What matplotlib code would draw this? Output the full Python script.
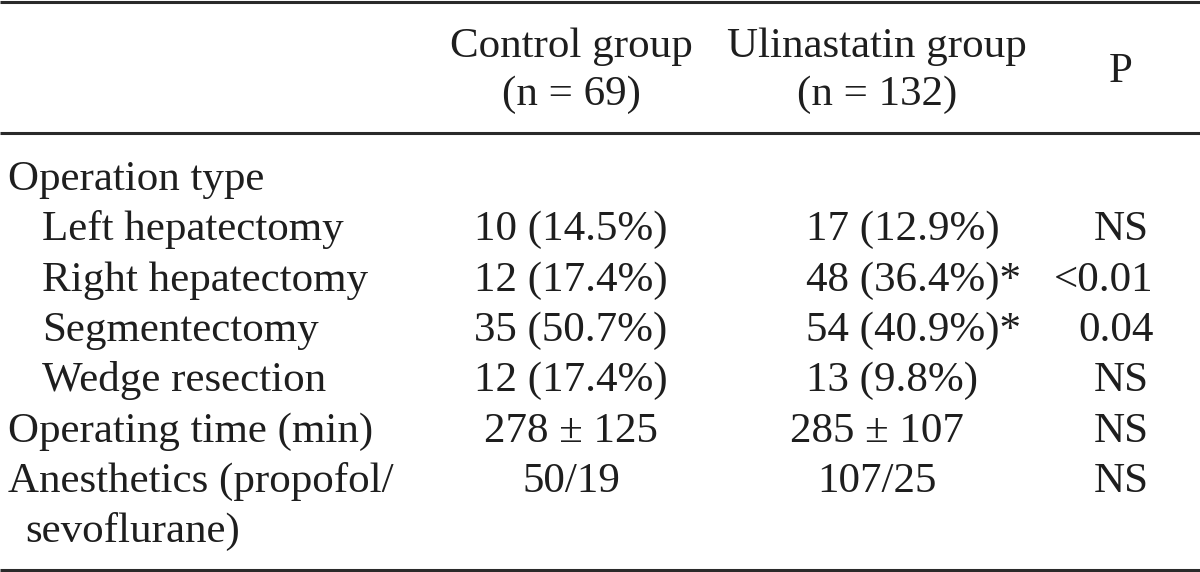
import matplotlib
matplotlib.use("Agg")
import matplotlib.pyplot as plt

# ---- data ----
header_control = ["Control group", "(n = 69)"]
header_ulin = ["Ulinastatin group", "(n = 132)"]
header_p = "P"

row_labels = ["Operation type", "Left hepatectomy", "Right hepatectomy", "Segmentectomy",
              "Wedge resection", "Operating time (min)", "Anesthetics (propofol/", "sevoflurane)"]
row_indent = [0, 2, 2, 2, 2, 0, 0, 1]
control_vals = ["", "10 (14.5%)", "12 (17.4%)", "35 (50.7%)", "12 (17.4%)", "278 ± 125", "50/19", ""]
ulin_vals = ["", "17 (12.9%)", "48 (36.4%)*", "54 (40.9%)*", "13 (9.8%)", "285 ± 107", "107/25", ""]
p_vals = ["", "NS", "<0.01", "0.04", "NS", "NS", "NS", ""]

# ---- layout ----
W, H = 1200, 572
fig = plt.figure(figsize=(W / 100, H / 100), dpi=100)
ax = fig.add_axes([0, 0, 1, 1])
ax.set_xlim(0, W)
ax.set_ylim(H, 0)
ax.axis("off")

font = dict(family="Liberation Serif", size=31, color="#1e1e1e")

# rules
for y in [1.5, 133, 570]:
    ax.plot([0, W], [y, y], color="#2a2a2a", lw=2.2, solid_capstyle="butt")

# header
col_c, col_u, col_p = 571, 877, 1121
for y, c, u in zip([57, 105], header_control, header_ulin):
    ax.text(col_c, y, c, ha="center", va="baseline", **font)
    ax.text(col_u, y, u, ha="center", va="baseline", **font)
ax.text(col_p, 82, header_p, ha="center", va="baseline", **font)

# body
indent_x = [8, 25, 42]
y0, dy = 190, 50.3
for i, lab in enumerate(row_labels):
    y = y0 + i * dy
    ax.text(indent_x[row_indent[i]], y, lab, ha="left", va="baseline", **font)
    if control_vals[i]:
        ax.text(col_c, y, control_vals[i], ha="center", va="baseline", **font)
    if ulin_vals[i]:
        if "%" in ulin_vals[i]:
            ax.text(806, y, ulin_vals[i], ha="left", va="baseline", **font)
        else:
            ax.text(col_u, y, ulin_vals[i], ha="center", va="baseline", **font)
    if p_vals[i]:
        if p_vals[i] == "NS":
            ax.text(col_p, y, p_vals[i], ha="center", va="baseline", **font)
        else:
            ax.text(1154, y, p_vals[i], ha="right", va="baseline", **font)

fig.savefig("out.png", dpi=100, facecolor="white")
